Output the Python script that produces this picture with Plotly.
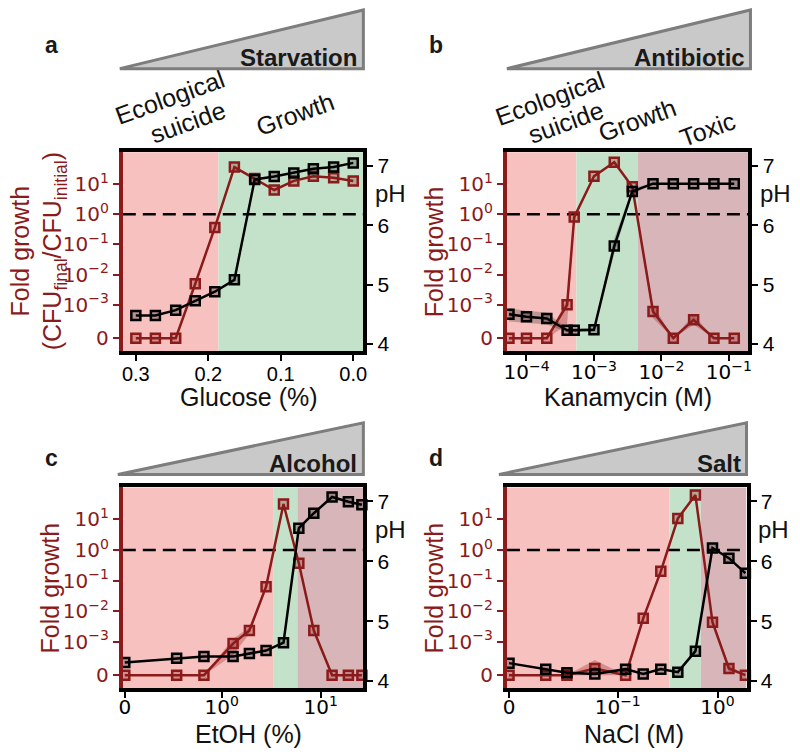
import math

import plotly.graph_objects as go

# ---- data ----
# a: starvation
glucose = [0.3, 0.273, 0.245, 0.218, 0.191, 0.164, 0.136, 0.109, 0.082, 0.055, 0.027, 0.0]
glucose_fold = [0, 0, 0, 5e-3, 0.36, 36, 15, 6.3, 12.6, 18, 16, 12.6]
glucose_ph = [4.48, 4.48, 4.57, 4.73, 4.88, 5.08, 6.77, 6.82, 6.88, 6.95, 6.98, 7.05]
glucose_zones = [0.186]

# b: antibiotic
kanamycin = [5.5e-5, 1.0e-4, 2.0e-4, 4.0e-4, 5.1e-4, 1.0e-3, 2.0e-3, 3.7e-3,
             7.5e-3, 1.5e-2, 3.0e-2, 6.0e-2, 1.2e-1]
kanamycin_fold = [0, 0, 0, 1e-3, 0.8, 18, 52, 8, 8e-4, 0, 5.5e-4, 0, 0]
kanamycin_fold_lo = [0, 0, 0, 4e-4, 0.7, 16, 48, 7, 6e-4, 0, 4e-4, 0, 0]
kanamycin_fold_hi = [0, 0, 0, 1.5e-3, 0.9, 20, 56, 9, 1e-3, 0, 7e-4, 0, 0]
kanamycin_ph = [4.5, 4.46, 4.43, 4.23, 4.23, 4.24, 5.65, 6.57, 6.7, 6.7, 6.7, 6.7, 6.7]
kanamycin_ph_lo = [4.38, 4.36, 4.33, 4.2, 4.2, 4.21, 5.52, 6.52, 6.69, 6.69, 6.69, 6.69, 6.69]
kanamycin_ph_hi = [4.6, 4.56, 4.53, 4.26, 4.26, 4.27, 5.78, 6.62, 6.71, 6.71, 6.71, 6.71, 6.71]
kanamycin_zones = [5.5e-4, 4.5e-3]

# c: alcohol
etoh = [0, 0.35, 0.66, 1.3, 1.9, 2.8, 4.2, 6.0, 8.5, 13, 19, 26]
etoh_fold = [0, 0, 0, 9.4e-4, 2.3e-3, 0.063, 32, 0.37, 2.3e-3, 0, 0, 0]
etoh_fold_lo = [0, 0, 0, 6e-4, 1.8e-3, 0.055, 30, 0.33, 2.0e-3, 0, 0, 0]
etoh_fold_hi = [0, 0, 0, 1.25e-3, 2.9e-3, 0.07, 34, 0.41, 2.6e-3, 0, 0, 0]
etoh_ph = [4.31, 4.38, 4.41, 4.41, 4.46, 4.51, 4.64, 6.55, 6.8, 7.07, 6.99, 6.94]
etoh_zones = [3.3, 5.8]

# d: salt
nacl = [0, 0.019, 0.031, 0.059, 0.12, 0.18, 0.27, 0.40, 0.60, 0.89, 1.3, 1.9]
nacl_fold = [0, 0, 0, 2e-4, 0, 5.8e-3, 0.2, 10.8, 63, 4.3e-3, 2e-4, 0]
nacl_fold_lo = [0, 0, 0, 0, 0, 5.2e-3, 0.18, 10, 60, 3.8e-3, 1e-4, 0]
nacl_fold_hi = [0, 0, 0, 4.5e-4, 0, 6.4e-3, 0.22, 11.6, 66, 4.8e-3, 3e-4, 0]
nacl_ph = [4.3, 4.2, 4.14, 4.12, 4.2, 4.12, 4.2, 4.15, 4.5, 6.22, 6.05, 5.8]
nacl_zones = [0.33, 0.68]

W, H = 800, 754
RED = "#8b1a1a"
PINK = "#f7c1bf"
GREEN = "#c4e2c9"
MAUVE = "#d8b5b9"
ARIAL = "Liberation Sans"
DEJAVU = "DejaVu Sans"


def symlog(vals, thresh, lin_width):
    # log above thresh, linear stretch from 0 up to thresh (like mpl symlog)
    out = []
    for v in vals:
        if v >= thresh:
            out.append(math.log10(v))
        else:
            out.append(math.log10(thresh) - lin_width * (1 - v / thresh))
    return out


def fold_t(vals):
    return symlog(vals, 1e-3, 1.1)


def sup(base, exp):
    return "%s<sup>%s</sup>" % (base, exp.replace("-", "\u2212"))


def px(x):
    return x / W


def py(y):
    return 1 - y / H


panels = [
    dict(letter="a", name="Starvation", xlabel="Glucose (%)",
         xt=glucose, fold=glucose_fold, ph=glucose_ph,
         zones=[glucose_zones[0]], colors=[PINK, GREEN],
         xrange=[0.318, -0.014], xticks=[0.3, 0.2, 0.1, 0.0],
         xtext=["0.3", "0.2", "0.1", "0.0"], xfont=ARIAL, standoff=-4, title_dx=6,
         box=(120, 153, 363, 353), tri=(117, 69, 363, 10)),
    dict(letter="b", name="Antibiotic", xlabel="Kanamycin (M)",
         xt=[math.log10(v) for v in kanamycin],
         fold=kanamycin_fold, ph=kanamycin_ph,
         fold_band=(kanamycin_fold_lo, kanamycin_fold_hi),
         ph_band=(kanamycin_ph_lo, kanamycin_ph_hi),
         zones=[math.log10(v) for v in kanamycin_zones], colors=[PINK, GREEN, MAUVE],
         xrange=[-4.29, -0.71], xticks=[-4, -3, -2, -1],
         xtext=[sup("10", "-4"), sup("10", "-3"), sup("10", "-2"), sup("10", "-1")],
         xfont=DEJAVU, standoff=-6, title_dx=0,
         box=(508, 153, 752, 353), tri=(508, 69, 754, 10)),
    dict(letter="c", name="Alcohol", xlabel="EtOH (%)",
         xt=symlog(etoh, 0.3, 0.457), fold=etoh_fold, ph=etoh_ph,
         fold_band=(etoh_fold_lo, etoh_fold_hi),
         zones=symlog(etoh_zones, 0.3, 0.457), colors=[PINK, GREEN, MAUVE],
         xrange=[-1.0, 1.43], xticks=symlog([0], 0.3, 0.457) + [0, 1],
         xtext=["0", sup("10", "0"), sup("10", "1")],
         xfont=DEJAVU, standoff=-8, title_dx=5,
         box=(120, 490, 363, 692), tri=(115, 477, 363, 425)),
    dict(letter="d", name="Salt", xlabel="NaCl (M)",
         xt=symlog(nacl, 0.015, 0.265), fold=nacl_fold, ph=nacl_ph,
         fold_band=(nacl_fold_lo, nacl_fold_hi),
         zones=symlog(nacl_zones, 0.015, 0.265), colors=[PINK, GREEN, MAUVE],
         xrange=[-2.11, 0.29], xticks=symlog([0], 0.015, 0.265) + [-1, 0],
         xtext=["0", sup("10", "-1"), sup("10", "0")],
         xfont=DEJAVU, standoff=-8, title_dx=7,
         box=(508, 490, 750, 692), tri=(500, 477, 750, 425)),
]

fold_range = [-4.53, 2.05]
ph_range = [3.88, 7.23]
fold_ticks = fold_t([0]) + [-3, -2, -1, 0, 1]
fold_text = ["0", sup("10", "-3"), sup("10", "-2"), sup("10", "-1"), sup("10", "0"), sup("10", "1")]

fig = go.Figure()
layout = {}
shapes = []
annotations = []


def add_band(x, lo, hi, xref, yref, color):
    fig.add_trace(go.Scatter(
        x=list(x) + list(x)[::-1], y=list(hi) + list(lo)[::-1],
        xaxis=xref, yaxis=yref, mode="lines", fill="toself",
        fillcolor=color, line=dict(width=0), hoverinfo="skip", showlegend=False))


for k, p in enumerate(panels, start=1):
    xs = "" if k == 1 else str(k)
    xref, yref, y2ref = "x" + xs, "y" + xs, "y" + str(k + 4)
    x0, y0, x1, y1 = p["box"]

    layout["xaxis" + xs] = dict(
        domain=[px(x0), px(x1)], range=p["xrange"], anchor=yref,
        showline=True, linecolor="black", linewidth=4, mirror=True,
        ticks="outside", ticklen=6, tickwidth=2, tickcolor="black",
        tickvals=p["xticks"], ticktext=p["xtext"], ticklabelstandoff=p["standoff"],
        tickfont=dict(family=p["xfont"], size=20, color="black"),
        showgrid=False, zeroline=False)
    layout["yaxis" + xs] = dict(
        domain=[py(y1), py(y0)], range=fold_range, anchor=xref,
        showline=True, linecolor=RED, linewidth=4,
        ticks="outside", ticklen=6, tickwidth=2, tickcolor=RED,
        tickvals=fold_ticks, ticktext=fold_text,
        tickfont=dict(family=DEJAVU, size=20, color=RED),
        showgrid=False, zeroline=False)
    layout["yaxis" + str(k + 4)] = dict(
        range=ph_range, overlaying=yref, anchor=xref, side="right",
        showline=True, linecolor="black", linewidth=4,
        ticks="outside", ticklen=6, tickwidth=2, tickcolor="black",
        tickvals=[4, 5, 6, 7], tickfont=dict(family=ARIAL, size=21, color="black"),
        showgrid=False, zeroline=False)

    # background zones
    edges = [p["xrange"][0]] + p["zones"] + [p["xrange"][1]]
    for i, c in enumerate(p["colors"]):
        shapes.append(dict(type="rect", xref=xref, yref=yref + " domain",
                           x0=edges[i], x1=edges[i + 1], y0=0, y1=1,
                           fillcolor=c, line=dict(width=0), layer="below"))
    # fold growth = 1
    shapes.append(dict(type="line", xref=xref + " domain", yref=yref,
                       x0=0, x1=1, y0=0, y1=0, layer="below",
                       line=dict(color="black", width=2.5, dash="13px,7px")))

    if "fold_band" in p:
        lo, hi = p["fold_band"]
        add_band(p["xt"], fold_t(lo), fold_t(hi), xref, yref, "rgba(139,26,26,0.3)")
    fig.add_trace(go.Scatter(
        x=p["xt"], y=fold_t(p["fold"]), xaxis=xref, yaxis=yref,
        mode="lines+markers", line=dict(color=RED, width=2.5),
        marker=dict(symbol="square", size=9, color="rgba(139,26,26,0.3)",
                    line=dict(color=RED, width=2.5)),
        showlegend=False, cliponaxis=False))
    if "ph_band" in p:
        lo, hi = p["ph_band"]
        add_band(p["xt"], lo, hi, xref, y2ref, "rgba(0,0,0,0.22)")
    fig.add_trace(go.Scatter(
        x=p["xt"], y=p["ph"], xaxis=xref, yaxis=y2ref,
        mode="lines+markers", line=dict(color="black", width=2.5),
        marker=dict(symbol="square", size=9, color="rgba(0,0,0,0.25)",
                    line=dict(color="black", width=2.5)),
        showlegend=False, cliponaxis=False))

    # stress wedge
    tx0, tyb, tx1, tyt = p["tri"]
    shapes.append(dict(type="path", xref="paper", yref="paper",
                       path="M %f %f L %f %f L %f %f Z" % (px(tx0), py(tyb), px(tx1), py(tyt),
                                                           px(tx1), py(tyb)),
                       fillcolor="#c9c9c9", line=dict(color="#7d7d7d", width=3)))
    annotations.append(dict(xref="paper", yref="paper", x=px(tx1 - 4), y=py(tyb - 11),
                            xanchor="right", yanchor="middle", showarrow=False,
                            text="<b>%s</b>" % p["name"],
                            font=dict(family=ARIAL, size=24, color="#1a1a1a")))
    annotations.append(dict(xref="paper", yref="paper", x=px(x0 - 72), y=py(tyt + 35),
                            xanchor="center", yanchor="middle", showarrow=False,
                            text="<b>%s</b>" % p["letter"],
                            font=dict(family=ARIAL, size=23, color="#1a1a1a")))

    # axis titles
    cx = (x0 + x1) / 2 + p["title_dx"]
    annotations.append(dict(xref="paper", yref="paper", x=px(cx), y=py(y1 + 46),
                            xanchor="center", yanchor="middle", showarrow=False,
                            text=p["xlabel"], font=dict(family=ARIAL, size=25, color="#111")))
    ytitle = "Fold growth"
    tx = x0 - 74
    if k == 1:
        ytitle = "Fold growth<br>(CFU<sub>final</sub>/CFU<sub>initial</sub>)"
        tx = x0 - 85
    annotations.append(dict(xref="paper", yref="paper", x=px(tx), y=py((y0 + y1) / 2),
                            xanchor="center", yanchor="middle", showarrow=False,
                            textangle=-90, text=ytitle,
                            font=dict(family=ARIAL, size=25, color=RED)))
    annotations.append(dict(xref="paper", yref="paper", x=px(x1 + 27), y=py(y0 + 42),
                            xanchor="center", yanchor="middle", showarrow=False,
                            text="pH", font=dict(family=ARIAL, size=24, color="#111")))

# rotated regime labels
regime_labels = [
    ("Ecological", 168, 98), ("suicide", 186, 123), ("Growth", 294, 115),
    ("Ecological", 552, 99), ("suicide", 568, 123), ("Growth", 640, 121), ("Toxic", 711, 130),
]
for text, lx, ly in regime_labels:
    annotations.append(dict(xref="paper", yref="paper", x=px(lx), y=py(ly),
                            xanchor="center", yanchor="middle", showarrow=False,
                            textangle=-20, text=text,
                            font=dict(family=ARIAL, size=25, color="#111")))

fig.update_layout(**layout)
fig.update_layout(
    width=W, height=H, autosize=False,
    margin=dict(l=0, r=0, t=0, b=0),
    paper_bgcolor="white", plot_bgcolor="white",
    shapes=shapes, annotations=annotations)

# drop the default body margin so the figure sits at the page origin
fig.write_html("out.html", config={"displayModeBar": False},
               post_script="document.body.style.margin='0';")
